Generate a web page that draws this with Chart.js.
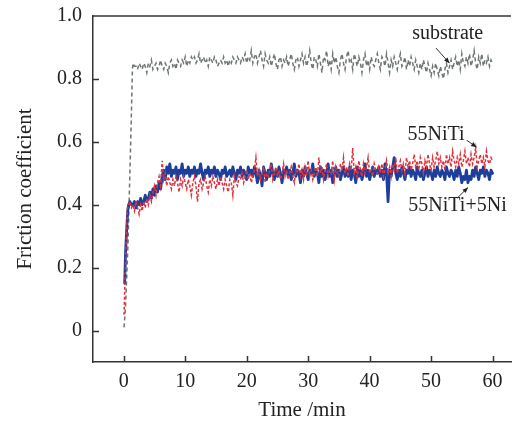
<!DOCTYPE html>
<html>
<head>
<meta charset="utf-8">
<title>Friction coefficient vs time</title>
<script src="https://cdn.jsdelivr.net/npm/chart.js@4.4.1/dist/chart.umd.min.js"></script>
<style>
    html, body { margin: 0; padding: 0; background: #fff; }
    #wrap { width: 520px; height: 423px; }
</style>
</head>
<body>
<div id="wrap"><canvas id="chart" width="520" height="423"></canvas></div>
<script>
// ==========================================================================================================
// -- Data --
// ==========================================================================================================

// Tick labels
const xTicks = [0, 10, 20, 30, 40, 50, 60];
const yTicks = [0, 0.2, 0.4, 0.6, 0.8, 1.0];

// Run-in part of each curve (time in min, friction coefficient)
const substrateRampTime = [0.05, 0.3, 0.7, 1.0, 1.2, 1.4];
const substrateRampValue = [0.01, 0.08, 0.28, 0.50, 0.65, 0.82];
const niTiRampTime = [0.05, 0.15, 0.3, 0.45, 0.6, 0.8, 1.0, 1.25];
const niTiRampValue = [0.05, 0.12, 0.22, 0.32, 0.39, 0.40, 0.41, 0.39];
const niTiNiRampTime = [0.15, 0.3, 0.5, 0.65, 0.8, 1.0, 1.25];
const niTiNiRampValue = [0.15, 0.25, 0.33, 0.38, 0.40, 0.41, 0.40];

// Steady part, sampled every 0.25 min from 1.5 min to 60 min
const sampleStart = 1.5;
const sampleStep = 0.25;

const substrateValues = [
    0.85,0.84,0.84,0.83,0.85,0.84,0.83,0.85,0.84,0.82,0.85,0.84,0.86,0.83,0.84,0.85,0.83,0.84,0.86,0.84,
    0.83,0.85,0.84,0.82,0.85,0.86,0.84,0.85,0.83,0.86,0.85,0.84,0.86,0.85,0.87,0.84,0.86,0.85,0.87,0.86,
    0.87,0.85,0.86,0.88,0.85,0.86,0.87,0.85,0.86,0.84,0.87,0.86,0.85,0.87,0.86,0.84,0.85,0.86,0.85,0.87,
    0.85,0.86,0.84,0.86,0.85,0.87,0.86,0.85,0.87,0.86,0.85,0.87,0.86,0.88,0.85,0.87,0.86,0.89,0.85,0.87,
    0.88,0.85,0.87,0.89,0.86,0.84,0.88,0.86,0.85,0.87,0.84,0.86,0.88,0.85,0.83,0.86,0.87,0.84,0.86,0.85,
    0.87,0.84,0.86,0.88,0.85,0.83,0.86,0.87,0.84,0.86,0.88,0.85,0.87,0.84,0.86,0.89,0.85,0.83,0.87,0.86,
    0.84,0.88,0.85,0.82,0.87,0.86,0.89,0.84,0.86,0.83,0.88,0.85,0.87,0.84,0.82,0.86,0.88,0.85,0.83,0.87,
    0.89,0.85,0.86,0.83,0.88,0.86,0.84,0.87,0.85,0.82,0.86,0.88,0.84,0.86,0.83,0.87,0.85,0.84,0.86,0.88,
    0.85,0.83,0.87,0.86,0.84,0.88,0.85,0.82,0.86,0.84,0.87,0.85,0.83,0.86,0.88,0.84,0.85,0.87,0.83,0.86,
    0.84,0.87,0.85,0.83,0.86,0.84,0.82,0.85,0.83,0.86,0.84,0.82,0.85,0.83,0.81,0.84,0.82,0.85,0.83,0.81,
    0.84,0.82,0.80,0.83,0.85,0.82,0.84,0.86,0.83,0.85,0.87,0.84,0.86,0.83,0.88,0.85,0.84,0.87,0.85,0.88,
    0.84,0.86,0.89,0.85,0.83,0.87,0.85,0.88,0.84,0.86,0.85,0.87,0.84,0.86,0.85
];

const niTiValues = [
    0.40,0.38,0.41,0.39,0.37,0.40,0.38,0.41,0.39,0.42,0.40,0.43,0.41,0.44,0.46,0.43,0.47,0.49,0.46,0.54,
    0.48,0.50,0.46,0.49,0.47,0.45,0.48,0.46,0.49,0.47,0.44,0.48,0.46,0.49,0.47,0.45,0.48,0.46,0.43,0.47,
    0.49,0.46,0.41,0.47,0.48,0.45,0.47,0.49,0.46,0.44,0.48,0.46,0.49,0.47,0.45,0.48,0.46,0.49,0.47,0.45,
    0.48,0.46,0.44,0.48,0.47,0.43,0.49,0.47,0.46,0.49,0.48,0.50,0.47,0.49,0.51,0.48,0.50,0.47,0.49,0.51,
    0.55,0.49,0.51,0.48,0.50,0.52,0.47,0.50,0.49,0.51,0.53,0.48,0.50,0.52,0.49,0.51,0.48,0.50,0.53,0.49,
    0.51,0.48,0.50,0.52,0.49,0.47,0.51,0.50,0.53,0.49,0.51,0.48,0.52,0.50,0.54,0.49,0.51,0.48,0.50,0.52,
    0.49,0.55,0.50,0.52,0.48,0.51,0.53,0.49,0.51,0.50,0.54,0.48,0.52,0.50,0.49,0.53,0.51,0.55,0.50,0.52,
    0.49,0.53,0.51,0.58,0.50,0.52,0.48,0.54,0.51,0.49,0.53,0.50,0.52,0.55,0.50,0.51,0.49,0.53,0.51,0.50,
    0.52,0.50,0.53,0.49,0.51,0.54,0.50,0.52,0.49,0.53,0.51,0.55,0.50,0.52,0.54,0.51,0.53,0.50,0.55,0.52,
    0.54,0.51,0.53,0.56,0.52,0.54,0.51,0.55,0.53,0.50,0.54,0.52,0.56,0.53,0.51,0.55,0.52,0.54,0.57,0.53,
    0.55,0.52,0.54,0.51,0.56,0.53,0.55,0.52,0.57,0.54,0.52,0.55,0.53,0.56,0.52,0.54,0.57,0.53,0.55,0.52,
    0.56,0.53,0.55,0.58,0.52,0.54,0.56,0.53,0.55,0.52,0.57,0.54,0.53,0.55,0.54
];

const niTiNiValues = [
    0.40,0.41,0.39,0.41,0.40,0.42,0.40,0.41,0.43,0.41,0.42,0.44,0.42,0.45,0.43,0.46,0.44,0.47,0.45,0.49,
    0.51,0.48,0.52,0.50,0.53,0.49,0.51,0.50,0.52,0.48,0.51,0.50,0.53,0.49,0.51,0.50,0.52,0.49,0.51,0.50,
    0.52,0.49,0.51,0.50,0.53,0.50,0.48,0.51,0.50,0.52,0.49,0.51,0.50,0.52,0.49,0.51,0.50,0.48,0.51,0.50,
    0.52,0.49,0.50,0.51,0.49,0.52,0.50,0.48,0.51,0.50,0.52,0.49,0.51,0.50,0.48,0.52,0.50,0.51,0.49,0.52,
    0.50,0.47,0.51,0.49,0.46,0.52,0.50,0.48,0.51,0.49,0.53,0.50,0.48,0.51,0.49,0.52,0.50,0.47,0.51,0.50,
    0.52,0.49,0.51,0.48,0.50,0.53,0.49,0.51,0.50,0.47,0.51,0.49,0.52,0.50,0.48,0.51,0.50,0.53,0.49,0.51,
    0.50,0.47,0.52,0.49,0.51,0.48,0.50,0.53,0.49,0.51,0.47,0.50,0.52,0.49,0.51,0.48,0.50,0.52,0.49,0.51,
    0.49,0.52,0.48,0.51,0.50,0.47,0.52,0.49,0.51,0.48,0.50,0.53,0.49,0.51,0.48,0.50,0.52,0.49,0.51,0.50,
    0.52,0.49,0.51,0.48,0.53,0.50,0.41,0.51,0.49,0.52,0.55,0.50,0.48,0.51,0.49,0.52,0.50,0.48,0.51,0.50,
    0.52,0.49,0.51,0.50,0.48,0.52,0.50,0.49,0.51,0.48,0.50,0.52,0.49,0.51,0.50,0.48,0.51,0.49,0.52,0.50,
    0.49,0.51,0.50,0.48,0.52,0.50,0.49,0.51,0.50,0.48,0.51,0.49,0.52,0.50,0.47,0.49,0.48,0.51,0.47,0.49,
    0.48,0.51,0.49,0.52,0.50,0.48,0.51,0.50,0.52,0.49,0.51,0.50,0.48,0.51,0.50
];

// Text labels with arrows, in data units
const annotations = [
    { text: 'substrate', x: 52.7, y: 0.943, from: [50.8, 0.898], to: [53.0, 0.850] },
    { text: '55NiTi', x: 50.8, y: 0.621, from: [55.8, 0.605], to: [57.4, 0.583] },
    { text: '55NiTi+5Ni', x: 54.3, y: 0.398, from: [54.2, 0.420], to: [56.0, 0.455] }
];

// ==========================================================================================================
// -- Helpers --
// ==========================================================================================================

const serif = '"Liberation Serif", "DejaVu Serif", serif';
const axisColor = '#333';
const textColor = '#222';

function toPoints(rampTime, rampValue, values) {
    const pts = rampTime.map((t, i) => ({ x: t, y: rampValue[i] }));
    values.forEach((v, i) => pts.push({ x: sampleStart + i * sampleStep, y: v }));
    return pts;
}

// Inward ticks, top frame line and arrow labels --------------------------------------------
const framePlugin = {
    id: 'frame',
    afterDraw(chart) {
        const { ctx, chartArea: a, scales: { x, y } } = chart;
        ctx.save();
        ctx.strokeStyle = axisColor;
        ctx.lineWidth = 1.5;
        ctx.beginPath();
        ctx.moveTo(a.left, a.top);
        ctx.lineTo(a.right, a.top);
        xTicks.forEach(v => {
            const px = Math.round(x.getPixelForValue(v)) + 0.5;
            ctx.moveTo(px, a.bottom);
            ctx.lineTo(px, a.bottom - 6);
        });
        yTicks.forEach(v => {
            if (v >= 1) return;
            const py = Math.round(y.getPixelForValue(v)) + 0.5;
            ctx.moveTo(a.left, py);
            ctx.lineTo(a.left + 6, py);
        });
        ctx.stroke();

        // labels
        ctx.fillStyle = textColor;
        ctx.font = `20px ${serif}`;
        ctx.textAlign = 'center';
        ctx.textBaseline = 'middle';
        ctx.lineWidth = 1;
        annotations.forEach(an => {
            ctx.fillText(an.text, x.getPixelForValue(an.x), y.getPixelForValue(an.y));
            const x0 = x.getPixelForValue(an.from[0]), y0 = y.getPixelForValue(an.from[1]);
            const x1 = x.getPixelForValue(an.to[0]), y1 = y.getPixelForValue(an.to[1]);
            const ang = Math.atan2(y1 - y0, x1 - x0);
            ctx.beginPath();
            ctx.moveTo(x0, y0);
            ctx.lineTo(x1, y1);
            ctx.stroke();
            ctx.beginPath();
            ctx.moveTo(x1, y1);
            ctx.lineTo(x1 - 6 * Math.cos(ang - 0.4), y1 - 6 * Math.sin(ang - 0.4));
            ctx.lineTo(x1 - 6 * Math.cos(ang + 0.4), y1 - 6 * Math.sin(ang + 0.4));
            ctx.closePath();
            ctx.fill();
        });
        ctx.restore();
    }
};

// ==========================================================================================================
// -- Chart --
// ==========================================================================================================

new Chart(document.getElementById('chart').getContext('2d'), {
    type: 'line',
    data: {
        datasets: [
            {
                label: '55NiTi',
                data: toPoints(niTiRampTime, niTiRampValue, niTiValues),
                borderColor: '#e2313a',
                borderWidth: 1.5,
                borderDash: [3, 2],
                pointRadius: 0,
                tension: 0,
                order: 0,
            },
            {
                label: '55NiTi+5Ni',
                data: toPoints(niTiNiRampTime, niTiNiRampValue, niTiNiValues),
                borderColor: '#1d3f9b',
                borderWidth: 2.8,
                borderJoinStyle: 'round',
                borderCapStyle: 'round',
                pointRadius: 0,
                tension: 0,
                order: 1,
            },
            {
                label: 'substrate',
                data: toPoints(substrateRampTime, substrateRampValue, substrateValues),
                borderColor: '#6e7572',
                borderWidth: 1.5,
                borderDash: [4, 3],
                pointRadius: 0,
                tension: 0,
                order: 2,
            },
        ],
    },
    options: {
        responsive: false,
        animation: false,
        layout: { padding: { top: 16, right: 9, left: 0, bottom: 0 } },
        plugins: {
            legend: { display: false },
            tooltip: { enabled: false },
        },
        scales: {
            x: {
                type: 'linear',
                min: -5,
                max: 63,
                afterBuildTicks: s => { s.ticks = xTicks.map(v => ({ value: v })); },
                afterFit: s => { s.height = 61; s.paddingLeft = 0; s.paddingRight = 0; },
                grid: { display: false, drawTicks: false },
                border: { color: axisColor, width: 1.5 },
                ticks: { color: textColor, font: { family: serif, size: 20 }, padding: 8, maxRotation: 0 },
                title: { display: true, text: 'Time /min', color: textColor, font: { family: serif, size: 21 }, padding: { top: 0, bottom: 0 } },
            },
            y: {
                min: -0.1,
                max: 1.0,
                afterBuildTicks: s => { s.ticks = yTicks.map(v => ({ value: v })); },
                afterFit: s => { s.width = 93; s.paddingTop = 0; s.paddingBottom = 0; },
                grid: { display: false, drawTicks: false },
                border: { color: axisColor, width: 1.5 },
                ticks: {
                    color: textColor,
                    font: { family: serif, size: 20 },
                    padding: 11,
                    callback: v => (v === 0 ? '0' : v.toFixed(1)),
                },
                title: { display: true, text: 'Friction coefficient', color: textColor, font: { family: serif, size: 21 }, padding: { top: 13, bottom: 0 } },
            },
        },
    },
    plugins: [framePlugin],
});
</script>
</body>
</html>
